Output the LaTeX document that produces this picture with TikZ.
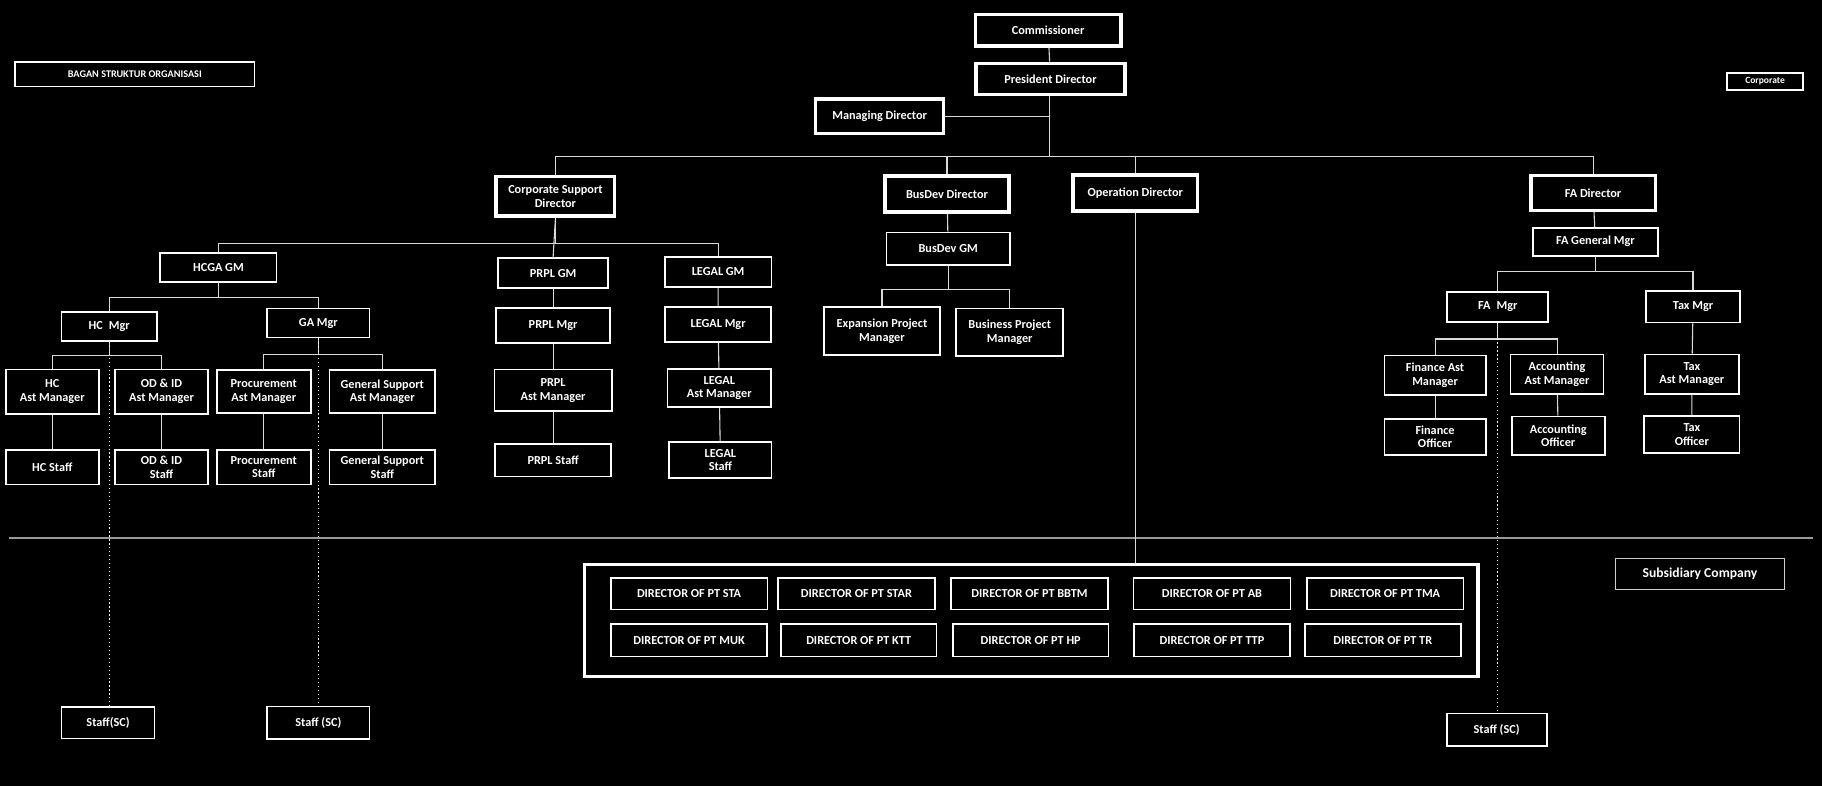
\documentclass[tikz,border=0pt]{standalone}
\usepackage{fontspec}
\setmainfont{Carlito}
\begin{document}
\begin{tikzpicture}[x=0.03cm,y=-0.03cm,
  bx/.style={draw=white,line width=1.3pt,text=white,font=\bfseries\fontsize{9}{10}\selectfont,align=center,inner sep=0pt},
  tb/.style={bx,line width=2.6pt},
  ln/.style={draw=white!85!black,line width=0.8pt},
  dl/.style={draw=white,line width=0.9pt,dotted}]
\fill[black] (0,0) rectangle (1568,676);
\useasboundingbox (0,0) rectangle (1568,676);
\newcommand{\bxat}[6]{\node[#1,minimum width=#4*0.03cm,minimum height=#5*0.03cm] (#6) at (#2,#3) {#6x};}
% top
\node[tb,minimum width=3.75cm,minimum height=0.81cm] (com) at (902,26) {Commissioner};
\node[tb,minimum width=3.84cm,minimum height=0.81cm] (pres) at (904,68) {President Director};
\node[tb,minimum width=3.3cm,minimum height=0.9cm] (md) at (757,100) {Managing Director};
\node[bx,minimum width=6.18cm,minimum height=0.63cm,font=\bfseries\fontsize{7.5}{9}\selectfont] (bagan) at (116,64) {BAGAN STRUKTUR ORGANISASI};
\node[bx,minimum width=1.95cm,minimum height=0.45cm,font=\bfseries\fontsize{7}{8}\selectfont] (corp) at (1519,70) {Corporate};
% directors
\node[tb,minimum width=3.06cm,minimum height=1.02cm] (csd) at (478,169) {Corporate Support\\Director};
\node[tb,minimum width=3.21cm,minimum height=0.93cm] (bdd) at (815,167) {BusDev Director};
\node[tb,minimum width=3.21cm,minimum height=0.93cm] (opd) at (977,166) {Operation Director};
\node[tb,minimum width=3.21cm,minimum height=0.9cm] (fad) at (1371,166) {FA Director};
% corporate support
\node[bx,minimum width=3cm,minimum height=0.75cm] (hcga) at (188,230) {HCGA GM};
\node[bx,minimum width=2.85cm,minimum height=0.78cm] (prplgm) at (476,235) {PRPL GM};
\node[bx,minimum width=2.76cm,minimum height=0.78cm] (legalgm) at (618,234) {LEGAL GM};
\node[bx,minimum width=2.46cm,minimum height=0.75cm] (hcm) at (94,281) {HC\enspace Mgr};
\node[bx,minimum width=2.64cm,minimum height=0.75cm] (gam) at (274,278) {GA Mgr};
\node[bx,minimum width=2.4cm,minimum height=1.14cm] (hcam) at (45,337) {HC\\Ast Manager};
\node[bx,minimum width=2.4cm,minimum height=1.14cm] (odam) at (139,337) {OD \& ID\\Ast Manager};
\node[bx,minimum width=2.4cm,minimum height=0.9cm] (hcs) at (45,402) {HC Staff};
\node[bx,minimum width=2.4cm,minimum height=0.9cm] (ods) at (139,402) {OD \& ID\\Staff};
\node[bx,minimum width=2.43cm,minimum height=1.11cm] (pam) at (227,337) {Procurement\\Ast Manager};
\node[bx,minimum width=2.73cm,minimum height=1.11cm] (gsam) at (329,337) {General Support\\Ast Manager};
\node[bx,minimum width=2.43cm,minimum height=0.9cm] (ps) at (227,402) {Procurement\\Staff};
\node[bx,minimum width=2.73cm,minimum height=0.9cm] (gss) at (329,402) {General Support\\Staff};
\node[bx,minimum width=2.94cm,minimum height=0.9cm] (prplm) at (476,280) {PRPL Mgr};
\node[bx,minimum width=3.03cm,minimum height=1.08cm] (prplam) at (476,336) {PRPL\\Ast Manager};
\node[bx,minimum width=3cm,minimum height=0.84cm] (prpls) at (476,396) {PRPL Staff};
\node[bx,minimum width=2.73cm,minimum height=0.9cm] (legalm) at (618,279) {LEGAL Mgr};
\node[bx,minimum width=2.67cm,minimum height=0.99cm] (legalam) at (619,334) {LEGAL\\Ast Manager};
\node[bx,minimum width=2.64cm,minimum height=0.93cm] (legals) at (620,396) {LEGAL\\Staff};
% busdev
\node[bx,minimum width=3.18cm,minimum height=0.84cm] (bdgm) at (816,214) {BusDev GM};
\node[bx,minimum width=3cm,minimum height=1.23cm] (epm) at (759,285) {Expansion Project\\Manager};
\node[bx,minimum width=2.76cm,minimum height=1.23cm] (bpm) at (869,286) {Business Project\\Manager};
% FA
\node[bx,minimum width=3.24cm,minimum height=0.72cm] (fagm) at (1373,208) {FA General Mgr};
\node[bx,minimum width=2.61cm,minimum height=0.78cm] (fam) at (1289,264) {FA\enspace Mgr};
\node[bx,minimum width=2.43cm,minimum height=0.81cm] (taxm) at (1457,264) {Tax Mgr};
\node[bx,minimum width=2.61cm,minimum height=1.02cm] (fiam) at (1235,323) {Finance Ast\\Manager};
\node[bx,minimum width=2.4cm,minimum height=1.02cm] (acam) at (1340,322) {Accounting\\Ast Manager};
\node[bx,minimum width=2.61cm,minimum height=0.93cm] (fio) at (1235,376) {Finance\\Officer};
\node[bx,minimum width=2.4cm,minimum height=0.99cm] (aco) at (1341,375) {Accounting\\Officer};
\node[bx,minimum width=2.43cm,minimum height=1.02cm] (taxam) at (1456,322) {Tax\\Ast Manager};
\node[bx,minimum width=2.46cm,minimum height=0.96cm] (taxo) at (1456,374) {Tax\\Officer};
% staff SC
\node[bx,minimum width=2.4cm,minimum height=0.81cm] (sc1) at (93,622) {Staff(SC)};
\node[bx,minimum width=2.64cm,minimum height=0.84cm] (sc2) at (274,622) {Staff (SC)};
\node[bx,minimum width=2.58cm,minimum height=0.84cm] (sc3) at (1288,628) {Staff (SC)};
% subsidiary
\draw[white!60!black,line width=0.8pt] (8,463) -- (1560,463);
\node[bx,line width=0.8pt,draw=white!80!black,minimum width=4.35cm,minimum height=0.78cm,font=\bfseries\fontsize{10}{11}\selectfont] (subc) at (1463,494) {Subsidiary Company};
\node[draw=white,line width=2.4pt,minimum width=23.07cm,minimum height=2.88cm,inner sep=0pt] (subbox) at (887.5,534) {};
\foreach \n/\x/\t in {a/593/STA,b/737/STAR,c/886/BBTM,d/1043/AB,e/1192/TMA}
  \node[bx,minimum width=4.05cm,minimum height=0.81cm] (s\n) at (\x,511) {DIRECTOR OF PT \t};
\foreach \n/\x/\t in {a/593/MUK,b/739/KTT,c/887/HP,d/1043/TTP,e/1190/TR}
  \node[bx,minimum width=4.02cm,minimum height=0.84cm] (r\n) at (\x,551) {DIRECTOR OF PT \t};
% connectors
\draw[ln] (com) -- (pres);
\coordinate (pb) at (903,135);
\draw[ln] (pres.south-|pb) -- (pb);
\draw[ln] (md.east) -| (903,100);
\draw[ln] (csd.north) |- (fad.north|-pb) -- (fad.north);
\draw[ln] (bdd.north) -- (bdd.north|-pb);
\draw[ln] (opd.north) -- (opd.north|-pb);
\draw[ln] (opd.south) -- (subbox.north-|opd.south);
% corporate support tree
\draw[ln] (csd.south) -- ++(0,22) -| (hcga.north);
\draw[ln] (csd.south) -- ++(0,22) -| (legalgm.north);
\draw[ln] (csd.south) -- (prplgm.north);
\draw[ln] (prplgm) -- (prplm) -- (prplam) -- (prpls);
\draw[ln] (legalgm) -- (legalm) -- (legalam) -- (legals);
\draw[ln] (hcga.south) -- ++(0,13) -| (hcm.north);
\draw[ln] (hcga.south) -- ++(0,13) -| (gam.north);
\draw[ln] (hcm.south) -- ++(0,12) -| (hcam.north);
\draw[ln] (hcm.south) -- ++(0,12) -| (odam.north);
\draw[ln] (gam.south) -- ++(0,14) -| (pam.north);
\draw[ln] (gam.south) -- ++(0,14) -| (gsam.north);
\draw[ln] (hcam) -- (hcs);
\draw[ln] (odam) -- (ods);
\draw[ln] (pam) -- (ps);
\draw[ln] (gsam) -- (gss);
\draw[dl] (hcm.south) -- (sc1.north-|hcm.south);
\draw[dl] (gam.south) -- (sc2.north);
% busdev
\draw[ln] (bdd) -- (bdgm);
\draw[ln] (bdgm.south) -- ++(0,20) -| (epm.north);
\draw[ln] (bdgm.south) -- ++(0,20) -| (bpm.north);
% FA
\draw[ln] (fad) -- (fagm);
\draw[ln] (fagm.south) -- ++(0,13) -| (fam.north);
\draw[ln] (fagm.south) -- ++(0,13) -| (taxm.north);
\draw[ln] (fam.south) -- ++(0,14) -| (fiam.north);
\draw[ln] (fam.south) -- ++(0,14) -| (acam.north);
\draw[ln] (fiam) -- (fio);
\draw[ln] (acam) -- (aco);
\draw[ln] (taxm) -- (taxam) -- (taxo);
\draw[dl] (fam.south) -- (sc3.north-|fam.south);
\end{tikzpicture}
\end{document}
